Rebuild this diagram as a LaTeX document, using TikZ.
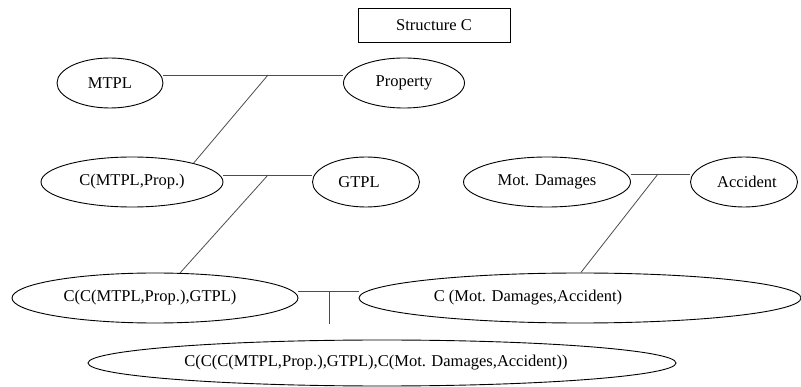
\documentclass[tikz,border=0pt]{standalone}
\usepackage{fontspec}
\setmainfont{Liberation Serif}
\usetikzlibrary{shapes.geometric}

\begin{document}
\begin{tikzpicture}[x=1pt, y=-1pt, font=\fontsize{16.5}{19}\selectfont,
    oval/.style={draw, ellipse, line width=0.9pt, inner sep=0pt, minimum height=50pt},
    link/.style={draw=black!70, line width=0.8pt}]
    \useasboundingbox (0,0) rectangle (801,387);
    \node[draw, line width=0.9pt, minimum width=152pt, minimum height=34pt] (title) at (434,25) {Structure C};
    \node[oval, minimum width=106pt] (mtpl) at (110,83)  {MTPL};
    \node[oval, minimum width=121pt] (prop) at (404,83)  {Property};
    \node[oval, minimum width=182pt] (cmp)  at (132,182) {C(MTPL,Prop.)};
    \node[oval, minimum width=107pt] (gtpl) at (366,182) {\hspace*{-14pt}GTPL};
    \node[oval, minimum width=167pt] (mot)  at (547,182) {Mot. Damages};
    \node[oval, minimum width=107pt] (acc)  at (744,182) {\hspace*{6pt}Accident};
    \node[oval, minimum width=286pt] (cc1)  at (155,298) {\hspace*{-10pt}C(C(MTPL,Prop.),GTPL)};
    \node[oval, minimum width=442pt,
          label={[xshift=-52pt]center:{C (Mot. Damages,Accident)}}] (cc2) at (580,298) {};
    \node[oval, minimum width=588pt, minimum height=46pt] (all) at (382,363)
          {\hspace*{-12pt}C(C(C(MTPL,Prop.),GTPL),C(Mot. Damages,Accident))};
    \coordinate (j1) at (268,75);
    \coordinate (j2) at (268,175);
    \coordinate (j3) at (658,174);
    \coordinate (j4) at (329,291);
    \coordinate (j5) at (329,324);
    \draw[link] (mtpl.east |- j1) -- (prop.west |- j1);
    \draw[link] (j1) -- (cmp.17);
    \draw[link] (cmp.east |- j2) -- (gtpl.west |- j2);
    \draw[link] (j2) -- (cc1.45);
    \draw[link] (mot.east |- j3) -- (acc.west |- j3);
    \draw[link] (j3) -- (cc2.88);
    \draw[link] (cc1.east |- j4) -- (cc2.west |- j4);
    \draw[link] (j4) -- (j5);
\end{tikzpicture}
\end{document}
